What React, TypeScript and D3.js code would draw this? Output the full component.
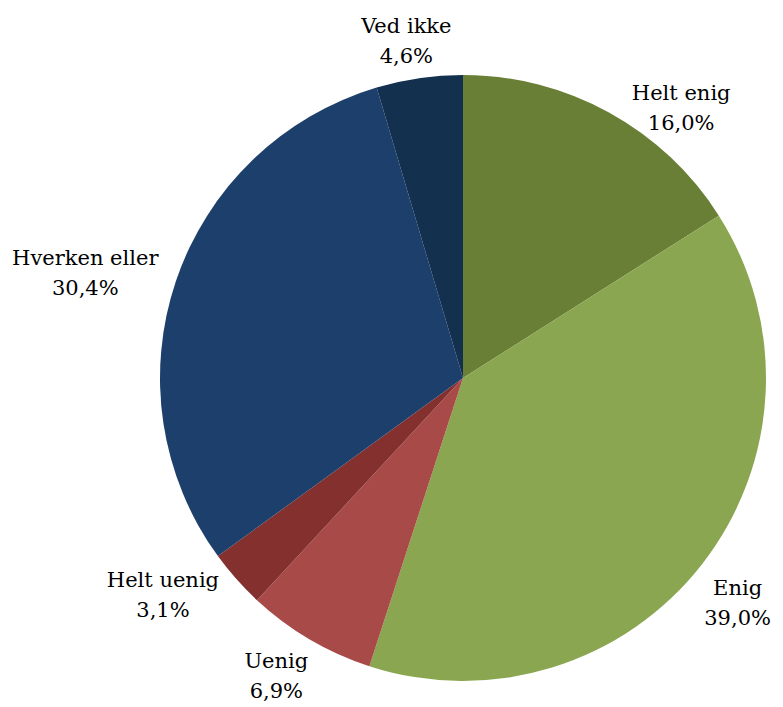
import React from "react";
import * as d3 from "d3";

const categories = ["Helt enig", "Enig", "Uenig", "Helt uenig", "Hverken eller", "Ved ikke"];
const values = [16.0, 39.0, 6.9, 3.1, 30.4, 4.6];
const colors = ["#687f35", "#8aa650", "#a84a47", "#83302f", "#1d3f6b", "#14304f"];

// manual label nudges (Excel best-fit placement)
const labelNudge = [[52, 24], [2, 6], [-12, -8], [-42, -20], [-51, -2], [-7, -4]];

const W = 783;
const H = 707;
const cx = 463;
const cy = 378;
const R = 303;

const fmt = (v: number) => v.toFixed(1).replace(".", ",") + "%";

export default function App() {
  const pie = d3.pie<number>().value(d => d).sort(null);
  const arcs = pie(values);
  const arc = d3.arc<d3.PieArcDatum<number>>().innerRadius(0).outerRadius(R);
  const labelArc = d3.arc<d3.PieArcDatum<number>>().innerRadius(345).outerRadius(345);

  return (
    <svg width={W} height={H} style={{ position: "absolute", left: 0, top: 0, background: "#fff" }}>
      <g transform={`translate(${cx},${cy})`}>
        {arcs.map((a, i) => (
          <path key={i} d={arc(a) || ""} fill={colors[i]} />
        ))}
        {arcs.map((a, i) => {
          const [x, y] = labelArc.centroid(a);
          const lx = x + labelNudge[i][0];
          const ly = y + labelNudge[i][1];
          return (
            <text
              key={"l" + i}
              x={lx}
              y={ly}
              textAnchor="middle"
              fontFamily="'DejaVu Serif', serif"
              fontSize={21}
              fill="#000"
            >
              <tspan x={lx}>{categories[i]}</tspan>
              <tspan x={lx} dy={30}>{fmt(values[i])}</tspan>
            </text>
          );
        })}
      </g>
    </svg>
  );
}
